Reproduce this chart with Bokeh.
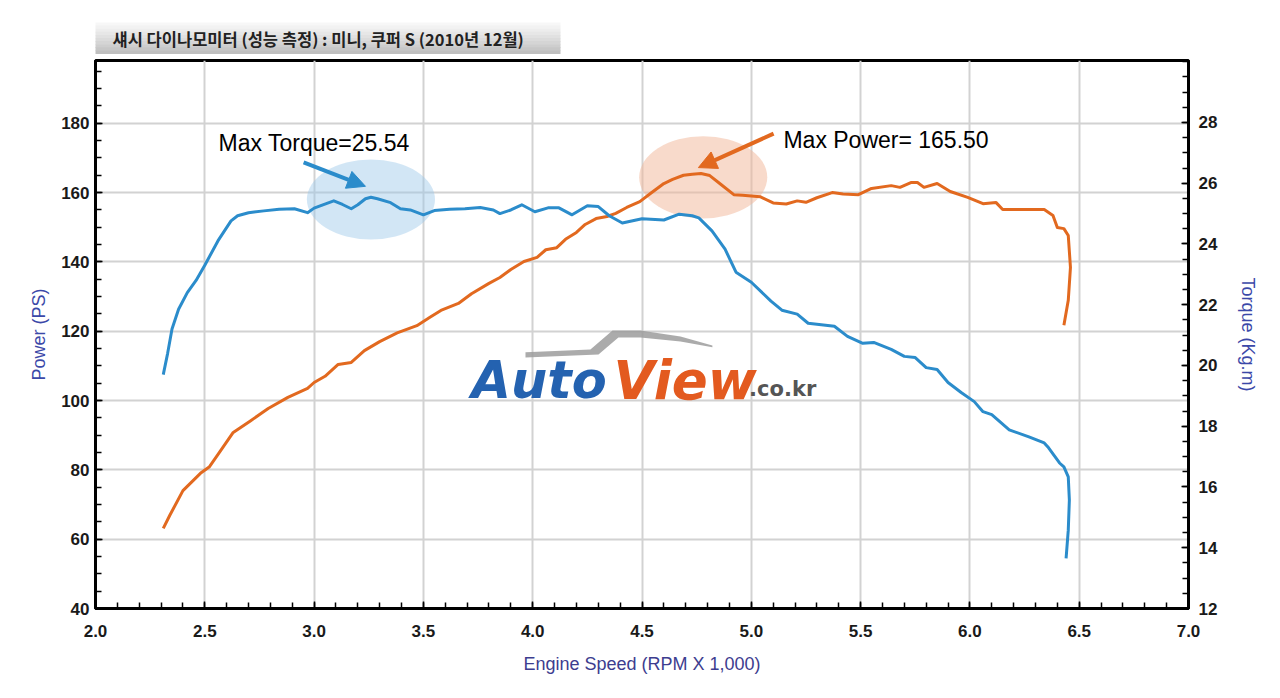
import numpy as np
from bokeh.plotting import figure
from bokeh.layouts import column
from bokeh.models import (Range1d, LinearAxis, FixedTicker, PrintfTickFormatter,
                          Label, Arrow, NormalHead)
from bokeh.core.properties import value
from bokeh.embed import file_html
from bokeh.resources import INLINE

# ---------------- data ----------------
rpm_power = [2.31, 2.34, 2.40, 2.48, 2.52, 2.57, 2.63, 2.71, 2.79, 2.88,
             2.97, 3.00, 3.05, 3.11, 3.17, 3.23, 3.30, 3.38, 3.47, 3.53,
             3.58, 3.66, 3.72, 3.80, 3.85, 3.90, 3.96, 4.02, 4.06, 4.11,
             4.15, 4.20, 4.24, 4.29, 4.34, 4.38, 4.43, 4.49, 4.54, 4.60,
             4.64, 4.69, 4.73, 4.77, 4.81, 4.86, 4.92, 4.96, 5.04, 5.10,
             5.16, 5.21, 5.25, 5.30, 5.37, 5.42, 5.49, 5.55, 5.64, 5.68,
             5.73, 5.76, 5.79, 5.85, 5.91, 5.99, 6.06, 6.12, 6.15, 6.23,
             6.34, 6.38, 6.40, 6.43, 6.45, 6.46, 6.45, 6.43]
power = [63.1, 66.9, 74.0, 79.0, 80.8, 85.3, 90.8, 94.2, 97.7, 100.9,
         103.5, 105.2, 107.0, 110.4, 111.0, 114.4, 117.0, 119.5, 121.6, 124.0,
         126.0, 128.0, 130.8, 133.8, 135.5, 137.8, 140.1, 141.3, 143.5, 144.1,
         146.5, 148.5, 150.8, 152.5, 153.1, 154.0, 155.7, 157.4, 159.8, 162.6,
         163.8, 165.0, 165.3, 165.5, 164.9, 162.4, 159.4, 159.2, 158.8, 157.0,
         156.7, 157.6, 157.2, 158.5, 160.0, 159.6, 159.4, 161.2, 162.0, 161.5,
         162.9, 162.9, 161.5, 162.6, 160.3, 158.6, 156.8, 157.1, 155.1, 155.1,
         155.1, 153.4, 149.9, 149.6, 147.6, 138.4, 128.9, 121.7]

rpm_torque = [2.31, 2.33, 2.35, 2.38, 2.42, 2.46, 2.50, 2.56, 2.62, 2.65,
              2.70, 2.77, 2.84, 2.91, 2.97, 3.00, 3.04, 3.09, 3.13, 3.17,
              3.20, 3.235, 3.26, 3.29, 3.35, 3.395, 3.44, 3.50, 3.55, 3.62,
              3.69, 3.76, 3.82, 3.85, 3.90, 3.95, 4.01, 4.07, 4.12, 4.18,
              4.25, 4.30, 4.35, 4.41, 4.50, 4.60, 4.67, 4.73, 4.76, 4.82,
              4.88, 4.93, 5.00, 5.09, 5.14, 5.21, 5.26, 5.38, 5.44, 5.51,
              5.56, 5.64, 5.70, 5.75, 5.80, 5.85, 5.90, 5.96, 6.02, 6.06,
              6.10, 6.18, 6.27, 6.34, 6.36, 6.41, 6.43, 6.45, 6.455, 6.45,
              6.44]
torque = [19.7, 20.4, 21.2, 21.85, 22.4, 22.8, 23.3, 24.1, 24.76, 24.93,
          25.03, 25.09, 25.14, 25.16, 25.03, 25.18, 25.29, 25.42, 25.30, 25.16,
          25.29, 25.49, 25.54, 25.49, 25.36, 25.16, 25.12, 24.96, 25.10, 25.14,
          25.16, 25.20, 25.12, 25.00, 25.12, 25.29, 25.06, 25.19, 25.19, 24.96,
          25.26, 25.23, 24.93, 24.69, 24.83, 24.79, 24.98, 24.93, 24.86, 24.43,
          23.83, 23.07, 22.74, 22.12, 21.82, 21.69, 21.39, 21.29, 20.96, 20.73,
          20.76, 20.53, 20.30, 20.26, 19.93, 19.87, 19.44, 19.11, 18.81, 18.48,
          18.38, 17.88, 17.65, 17.45, 17.29, 16.79, 16.66, 16.33, 15.57, 14.58,
          13.65]

x_ticks = [2.0, 2.5, 3.0, 3.5, 4.0, 4.5, 5.0, 5.5, 6.0, 6.5, 7.0]
power_ticks = [40, 60, 80, 100, 120, 140, 160, 180]
torque_ticks = [12, 14, 16, 18, 20, 22, 24, 26, 28]

max_torque = 25.54
max_power = 165.50
max_torque_rpm = 3.26
max_power_rpm = 4.78

title_text = "섀시 다이나모미터 (성능 측정) :  미니, 쿠퍼 S (2010년 12월)"
x_label = "Engine Speed (RPM X 1,000)"
power_label = "Power (PS)"
torque_label = "Torque (Kg.m)"

# ---------------- styles ----------------
ORANGE = "#e2691f"
BLUE = "#2b8ccb"
LABEL_BLUE = "#3b48a8"
TICK_FONT = "Liberation Sans"
FONT = "Liberation Sans"
W = 1264
TITLE_H = 55
FRAME_L, FRAME_R = 95, 1188

# ---------------- title strip (own small figure, frame aligned with chart) ----
t = figure(width=W, height=TITLE_H, output_backend="svg", toolbar_location=None,
           x_range=Range1d(FRAME_L, FRAME_R), y_range=Range1d(TITLE_H, 0),
           min_border=0, background_fill_color="white", border_fill_color="white")
t.axis.visible = False
t.grid.visible = False
t.outline_line_color = None
t.title.visible = False
grad = ["#f7f7f7", "#f2f2f2", "#ededed", "#e7e7e7", "#e1e1e1", "#dbdbdb",
        "#d5d5d5", "#cecece", "#c7c7c7", "#bfbfbf"]
box_top, box_bot = 22, 53
hh = (box_bot - box_top) / len(grad)
t.quad(left=[94] * len(grad), right=[560] * len(grad),
       top=[box_top + i * hh for i in range(len(grad))],
       bottom=[box_top + (i + 1) * hh + 0.6 for i in range(len(grad))],
       fill_color=grad, line_color=None)
t.text(x=[112], y=[38], text=[title_text], text_font=value("Noto Sans CJK KR"),
       text_font_style="bold", text_font_size="16.5px", text_color="#222222",
       text_baseline="middle")

# ---------------- main chart ----------------
p = figure(width=W, height=627, output_backend="svg", toolbar_location=None,
           x_range=Range1d(2, 7), y_range=Range1d(40, 198.1),
           min_border_left=FRAME_L, min_border_right=W - FRAME_R, min_border_top=5,
           min_border_bottom=74, background_fill_color="white",
           border_fill_color="white")
p.title.visible = False
p.extra_y_ranges = {"torque": Range1d(12, 30.04)}

p.outline_line_color = "black"
p.outline_line_width = 3

p.xaxis.ticker = FixedTicker(ticks=x_ticks,
                             minor_ticks=list(np.round(np.arange(2.0, 7.001, 0.1), 2)))
p.xaxis.formatter = PrintfTickFormatter(format="%.1f")
p.xaxis.axis_label = x_label
p.yaxis.ticker = FixedTicker(ticks=power_ticks, minor_ticks=list(range(40, 200, 5)))
p.yaxis.axis_label = power_label

raxis = LinearAxis(y_range_name="torque", axis_label=torque_label,
                   ticker=FixedTicker(ticks=torque_ticks,
                                      minor_ticks=list(np.arange(12, 30.01, 0.5))))
p.add_layout(raxis, "right")

for ax in [p.xaxis[0], p.yaxis[0], raxis]:
    ax.axis_line_color = "black"
    ax.axis_line_width = 3
    ax.major_tick_in = 7
    ax.major_tick_out = 0
    ax.minor_tick_in = 6
    ax.minor_tick_out = 0
    ax.major_tick_line_color = "black"
    ax.major_tick_line_width = 1.5
    ax.minor_tick_line_color = "black"
    ax.minor_tick_line_width = 1.5
    ax.major_label_text_font = TICK_FONT
    ax.major_label_text_font_style = "bold"
    ax.major_label_text_font_size = "17px"
    ax.major_label_text_color = "#1a1a1a"
    ax.axis_label_text_font = FONT
    ax.axis_label_text_font_style = "normal"
    ax.axis_label_text_font_size = "18px"

p.xaxis.major_label_standoff = 16
p.xaxis.axis_label_standoff = 14
p.xaxis.axis_label_text_color = "#3d3d8f"
p.yaxis.major_label_standoff = 6
p.yaxis.axis_label_standoff = 9
p.yaxis.axis_label_text_color = LABEL_BLUE
raxis.major_label_standoff = 10
raxis.axis_label_standoff = 18
raxis.axis_label_text_color = LABEL_BLUE

p.xgrid.ticker = FixedTicker(ticks=x_ticks)
p.ygrid.ticker = FixedTicker(ticks=power_ticks)
for g in [p.xgrid[0], p.ygrid[0]]:
    g.grid_line_color = "#d2d2d2"
    g.grid_line_width = 2

# highlight ellipses around the maxima
p.ellipse(x=[max_torque_rpm], y=[158.0], width=0.586, height=23.1,
          fill_color="#9cc8e8", fill_alpha=0.45, line_color=None)
p.ellipse(x=[max_power_rpm], y=[164.4], width=0.586, height=23.7,
          fill_color="#f2b597", fill_alpha=0.5, line_color=None)

# watermark logo
p.patch(x=[3.967, 4.264, 4.365, 4.493, 4.676, 4.822, 4.822, 4.676, 4.493, 4.392, 4.301, 3.967],
        y=[113.9, 114.7, 120.2, 120.2, 118.5, 115.9, 115.4, 117.0, 118.2, 118.2, 113.3, 112.4],
        fill_color="#9c9c9c", fill_alpha=0.85, line_color=None)
p.add_layout(Label(x=3.72, y=105.8, text="Auto", text_font="DejaVu Sans",
                   text_font_style="bold italic", text_font_size="51px",
                   text_color="#2462b0", text_baseline="alphabetic"))
p.add_layout(Label(x=4.37, y=105.8, text="View", text_font="DejaVu Sans",
                   text_font_style="bold italic", text_font_size="53px",
                   text_color="#e35a1f", text_baseline="alphabetic"))
p.add_layout(Label(x=4.99, y=103.2, text=".co.kr", text_font="DejaVu Sans",
                   text_font_style="bold", text_font_size="21px",
                   text_color="#555555", text_baseline="alphabetic"))

# curves
p.line(rpm_power, power, line_color=ORANGE, line_width=3, line_join="round")
p.line(rpm_torque, torque, y_range_name="torque", line_color=BLUE, line_width=3,
       line_join="round")

# callouts
p.add_layout(Arrow(x_start=2.952, y_start=168.7, x_end=3.235, y_end=161.8,
                   line_color=BLUE, line_width=4,
                   end=NormalHead(size=18, fill_color=BLUE, line_color=BLUE)))
p.add_layout(Arrow(x_start=5.102, y_start=177.0, x_end=4.758, y_end=167.2,
                   line_color=ORANGE, line_width=4,
                   end=NormalHead(size=18, fill_color=ORANGE, line_color=ORANGE)))
p.add_layout(Label(x=2.563, y=174.2, text=f"Max Torque={max_torque:.2f}",
                   text_font=FONT, text_font_size="23px", text_color="black",
                   text_baseline="middle"))
p.add_layout(Label(x=5.147, y=175.3, text=f"Max Power= {max_power:.2f}",
                   text_font=FONT, text_font_size="23px", text_color="black",
                   text_baseline="middle"))

page = column(t, p, spacing=0)
open("out.html", "w").write(file_html(page, INLINE))
